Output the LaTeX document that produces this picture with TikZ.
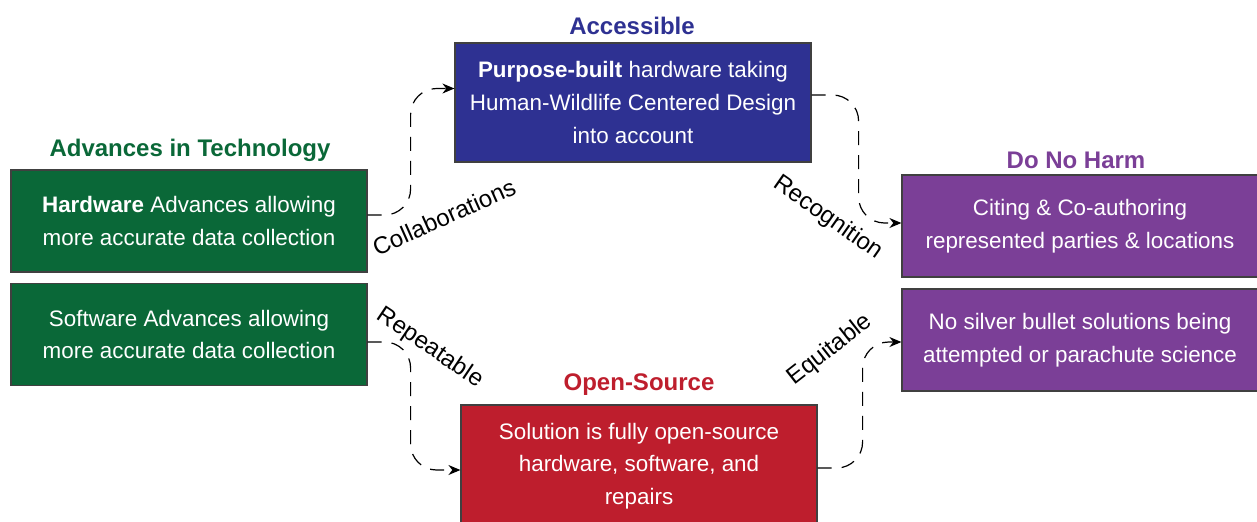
\documentclass[tikz,border=0pt]{standalone}
\usepackage{fontspec}
\setmainfont{Liberation Sans}
\usetikzlibrary{arrows.meta}

\definecolor{techgreen}{RGB}{10,104,56}
\definecolor{accblue}{RGB}{46,49,146}
\definecolor{harmpurple}{RGB}{123,63,151}
\definecolor{osred}{RGB}{190,30,45}

\begin{document}
\begin{tikzpicture}[x=0.5pt, y=-0.5pt,
  box/.style={draw=black!75, line width=0.6pt, text=white, align=center,
    minimum width=178pt, inner sep=2pt, font=\fontsize{11.2}{16.3}\selectfont},
  head/.style={font=\fontsize{12}{14}\selectfont\bfseries},
  lbl/.style={font=\fontsize{12}{14}\selectfont, inner sep=1pt},
  flow/.style={dash pattern=on 7pt off 5pt, line width=0.6pt, rounded corners=13pt,
    -{Stealth[length=6pt,width=5pt]}}]

        \useasboundingbox (0,0) rectangle (1257,521);

        % Titel der Gruppen
        \node[head, text=techgreen] (techhead) at (190,150) {Advances in Technology};
        \node[head, text=accblue] (acchead) at (632,26) {Accessible};
        \node[head, text=harmpurple] (harmhead) at (1076,160) {Do No Harm};
        \node[head, text=osred] (oshead) at (639,385) {Open-Source};

        % Kästen
        \node[box, fill=techgreen, minimum height=51pt] (hw) at (189,221)
            {\textbf{Hardware} Advances allowing\\more accurate data collection};
        \node[box, fill=techgreen, minimum height=51pt] (sw) at (189,334.5)
            {Software Advances allowing\\more accurate data collection};
        \node[box, fill=accblue, minimum height=59.5pt] (acc) at (633,102.5)
            {\textbf{Purpose-built} hardware taking\\Human-Wildlife Centered Design\\into account};
        \node[box, fill=harmpurple, minimum height=51pt] (cite) at (1080,226)
            {Citing \& Co-authoring\\represented parties \& locations};
        \node[box, fill=harmpurple, minimum height=51pt] (nosb) at (1080,340)
            {No silver bullet solutions being\\attempted or parachute science};
        \node[box, fill=osred, minimum height=61pt] (os) at (639,466)
            {Solution is fully open-source\\hardware, software, and\\repairs};

        % Verbindungen
        \draw[flow] ([yshift=3pt]hw.east) -- ++(43,0) |- ([yshift=7pt]acc.west);
        \draw[flow] ([yshift=3.75pt]acc.east) -- ++(47,0) |- ([yshift=1.5pt]cite.west);
        \draw[flow] ([yshift=-3.75pt]sw.east) -- ++(43,0) |- ([yshift=-2pt]os.west);
        \draw[flow] ([yshift=-1pt]os.east) -- ++(45,0) |- ([yshift=-1pt]nosb.west);

        % Beschriftungen
        \node[lbl, rotate=24] (collab) at (444,217) {Collaborations};
        \node[lbl, rotate=-35] (recog) at (828,218) {Recognition};
        \node[lbl, rotate=-34] (repeat) at (430,348) {Repeatable};
        \node[lbl, rotate=38] (equit) at (830,350) {Equitable};

\end{tikzpicture}
\end{document}
